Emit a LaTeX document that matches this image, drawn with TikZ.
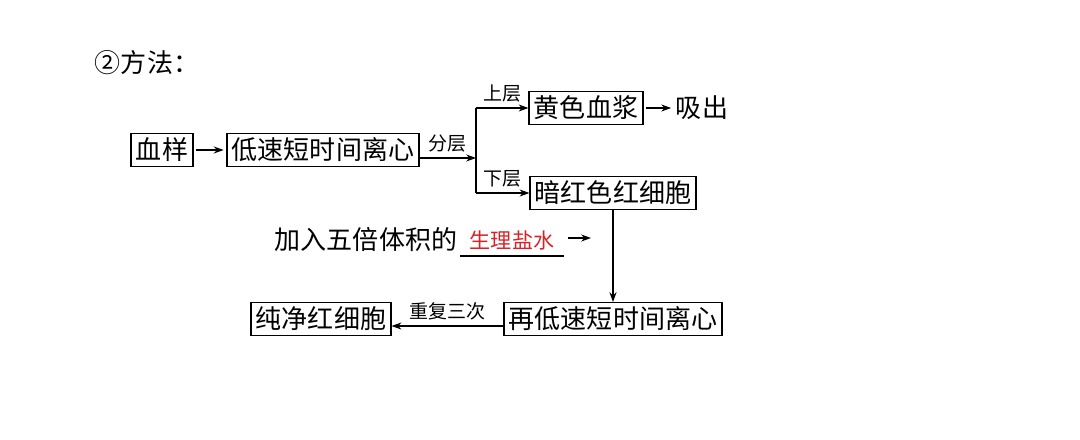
\documentclass[tikz,border=0pt]{standalone}
\usepackage{fontspec}
\usepackage{xcolor}
\usetikzlibrary{arrows.meta}
\newfontfamily\cjk{Noto Sans CJK SC}
\definecolor{saltred}{RGB}{215,35,40}
\tikzset{
  box/.style={draw, inner xsep=3.5pt, inner ysep=3pt, font=\cjk\fontsize{18.5}{18.5}\selectfont},
  big/.style={inner sep=1pt, font=\cjk\fontsize{18.5}{18.5}\selectfont},
  small/.style={inner sep=1pt, font=\cjk\fontsize{13.5}{13.5}\selectfont}
}

\begin{document}
\begin{tikzpicture}[x=0.025cm, y=-0.025cm, line width=0.3mm, >={Stealth[length=7pt, width=5pt]}]
        \useasboundingbox (0,0) rectangle (1080,440);

        \node[big](title) at (147, 63) {②方法：};
        \node[box](blood) at (162, 150) {血样};
        \node[box](slow)  at (323, 150) {低速短时间离心};
        \node[box](plasma) at (586, 108) {黄色血浆};
        \node[big](suck)  at (702, 108) {吸出};
        \node[box](red)   at (613, 193) {暗红色红细胞};
        \node[box](again) at (613, 319) {再低速短时间离心};
        \node[box](pure)  at (321, 319) {纯净红细胞};

        \coordinate(fork) at (476, 158);
        \coordinate(up)   at (476, 108);
        \coordinate(down) at (476, 193);

        \node[big](add) at (366, 240) {加入五倍体积的};
        \node[small, text=saltred, font=\cjk\fontsize{15}{15}\selectfont,
              minimum width=2.55cm, inner ysep=4pt](salt) at (512, 240) {生理盐水};
        \coordinate(salttip) at (591, 238);

          \draw[->, shorten <=2pt, shorten >=2pt] (blood) -- (slow);
          \draw[->] (slow.east |- fork) -- node[small, above=3pt] {分层} (fork);
          \draw (up) -- (down);
          \draw[->] (up) -- node[small, above=3pt] {上层} (plasma);
          \draw[->] (down) -- node[small, above=3pt] {下层} (red);
          \draw[->, shorten <=2pt, shorten >=2pt] (plasma) -- (suck);

        \draw (salt.south west) -- (salt.south east);
        \draw[->, shorten <=3pt] (salt.east) ++(0,-2) -- (salttip);

          \draw[->] (red) -- (again);
          \draw[->] (again.west |- 0,326) -- node[small, above=3pt] {重复三次} (pure.east |- 0,326);

      \end{tikzpicture}
\end{document}
